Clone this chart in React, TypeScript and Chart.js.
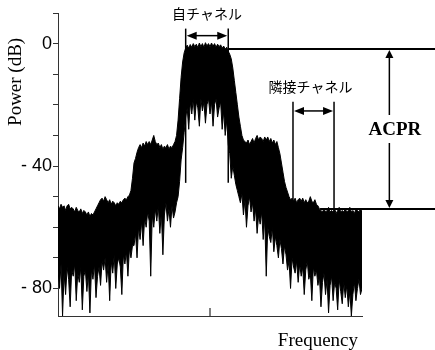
import React, { useEffect, useRef } from 'react';
import { Chart, registerables } from 'chart.js';

Chart.register(...registerables);

// Frequency grid: index step (arbitrary units, 0..100 across the plot)
const FREQ_STEP = 0.5;

// Upper envelope of the measured spectrum (dB), one value per FREQ_STEP
const UPPER_DB = [
  -53, -54, -52.5, -53.5, -53, -54.5, -53, -52.5, -54, -53.5,
  -54, -55, -53.5, -54.5, -55, -54, -55.5, -54.5, -55, -56,
  -55, -56.5, -55.5, -56, -55, -54, -53, -52, -51, -50.5,
  -51.5, -50, -51, -52, -51, -52.5, -51.5, -52, -53, -52,
  -52.5, -51.5, -52, -51, -50.5, -51, -50, -49.5, -48, -44,
  -39, -37.5, -35.5, -34, -33, -34, -32.5, -33.5, -32, -33,
  -32, -33, -31.5, -30, -32, -33, -32.5, -34, -33, -34.5,
  -33.5, -34, -33, -34.5, -33.5, -34, -33, -32, -30, -25,
  -18, -11, -6, -3, -1.5, -0.5, -1.5, -0.3, -1.2, 0,
  -1, -0.2, -1.3, 0.2, -1, 0, -1.2, 0.3, -0.8, 0,
  -1, 0.2, -0.9, 0, -1.2, -0.2, -1, -0.4, -1.5, -0.8,
  -1.8, -1.2, -2.5, -3.5, -5, -8, -12, -16, -20, -24,
  -27, -30, -31.5, -32, -32.5, -31.5, -33, -32, -31, -32.5,
  -31, -30, -31.5, -30.5, -31, -32, -30.5, -31.5, -30.5, -32,
  -31, -32.5, -31.5, -33, -32, -34, -36, -39, -42, -45,
  -47, -48.5, -50, -51, -50.5, -51.5, -50.5, -52, -51, -50.5,
  -51.5, -50.5, -52, -51, -52, -51.5, -50, -51.5, -52, -51,
  -52.5, -53, -54, -54.5, -55, -54, -55, -54.5, -53.5, -55,
  -54.5, -55, -54, -55.5, -54.5, -53.5, -55, -54.5, -55, -54,
  -55, -54.5, -53.5, -55, -54.5, -55.5, -54, -54.5, -55, -54,
  -54.5,
];

// Lower edge (troughs) of the measured spectrum (dB)
const LOWER_DB = [
  -74, -80, -72, -89, -75, -82, -73, -77, -86, -74,
  -76, -72, -84, -75, -78, -73, -87, -76, -74, -81,
  -75, -88, -74, -77, -72, -83, -76, -73, -79, -71,
  -74, -70, -78, -72, -84, -71, -75, -69, -80, -72,
  -70, -73, -82, -69, -72, -68, -76, -67, -70, -66,
  -66, -62, -70, -60, -64, -58, -66, -57, -60, -55,
  -58, -76, -56, -60, -54, -58, -53, -62, -55, -69,
  -56, -52, -58, -54, -60, -53, -57, -55, -52, -50,
  -45, -38, -34, -29, -24, -21, -28, -19, -23, -18,
  -25, -19, -21, -27, -18, -22, -19, -26, -20, -18,
  -23, -19, -27, -20, -18, -24, -21, -19, -28, -22,
  -30, -25, -33, -36, -44, -40, -43, -46, -48, -50,
  -52, -49, -56, -51, -60, -53, -50, -55, -52, -58,
  -54, -62, -56, -59, -55, -64, -57, -76, -60, -63,
  -65, -60, -68, -63, -66, -70, -64, -67, -72, -66,
  -69, -74, -71, -80, -70, -73, -75, -71, -78, -72,
  -76, -73, -82, -74, -71, -77, -75, -84, -73, -76,
  -74, -79, -76, -86, -78, -75, -82, -77, -88, -79,
  -76, -84, -78, -80, -87, -77, -81, -85, -78, -83,
  -79, -86, -81, -89, -82, -78, -84, -80, -77, -82,
  -80,
];

// Axis ranges and tick labels
const X_MIN = 0;
const X_MAX = 100;
const X_CENTER_TICK = 50;
const Y_MIN = -89;
const Y_MAX = 10;
const Y_STEP = 10;
const Y_TICK_LABELS: Record<string, string> = { '0': '0', '-40': '- 40', '-80': '- 80' };

// Annotation values (frequency index / dB)
const SELF_CHANNEL = [42, 56];
const SELF_LINE_DB = [4.9, -45.5];
const SELF_ARROW_DB = 2.6;
const ADJ_CHANNEL = [77.3, 90.8];
const ADJ_LINE_DB = [-19, -57];
const ADJ_ARROW_DB = -22;
const MAIN_LEVEL_DB = -1.8;
const ADJ_LEVEL_DB = -54;
const ADJ_LEVEL_START = 86.2;
const ACPR_X = 109;

const TEXT_SELF = '自チャネル';
const TEXT_ADJ = '隣接チャネル';
const TEXT_ACPR = 'ACPR';
const TEXT_X = 'Frequency';
const TEXT_Y = 'Power (dB)';

const CJK = "'Noto Sans CJK JP', 'Noto Sans', sans-serif";
const SERIF = "'Liberation Serif', 'DejaVu Serif', serif";

const annotationPlugin = {
  id: 'acprAnnotations',
  afterDraw(chart: any) {
    const { ctx, chartArea } = chart;
    const xs = chart.scales.x;
    const ys = chart.scales.y;
    const px = (v: number) => xs.getPixelForValue(v);
    const py = (v: number) => ys.getPixelForValue(v);
    const W = chart.width;

    ctx.save();
    ctx.strokeStyle = '#000';
    ctx.fillStyle = '#000';
    ctx.lineCap = 'butt';

    const line = (x1: number, y1: number, x2: number, y2: number, w: number) => {
      ctx.lineWidth = w;
      ctx.beginPath();
      ctx.moveTo(x1, y1);
      ctx.lineTo(x2, y2);
      ctx.stroke();
    };
    const head = (tx: number, ty: number, dx: number, dy: number, len: number, half: number) => {
      const bx = tx - dx * len;
      const by = ty - dy * len;
      ctx.beginPath();
      ctx.moveTo(tx, ty);
      ctx.lineTo(bx - dy * half, by + dx * half);
      ctx.lineTo(bx + dy * half, by - dx * half);
      ctx.closePath();
      ctx.fill();
    };

    // x-axis center tick (inward)
    line(px(X_CENTER_TICK), chartArea.bottom, px(X_CENTER_TICK), chartArea.bottom - 8, 1);

    // own channel
    const sL = px(SELF_CHANNEL[0]);
    const sR = px(SELF_CHANNEL[1]);
    line(sL, py(SELF_LINE_DB[0]), sL, py(SELF_LINE_DB[1]), 1.5);
    line(sR, py(SELF_LINE_DB[0]), sR, py(SELF_LINE_DB[1]), 1.5);
    const sy = py(SELF_ARROW_DB);
    line(sL + 6, sy, sR - 6, sy, 1.5);
    head(sL + 1, sy, -1, 0, 10, 4);
    head(sR - 1, sy, 1, 0, 10, 4);

    // adjacent channel
    const aL = px(ADJ_CHANNEL[0]);
    const aR = px(ADJ_CHANNEL[1]);
    line(aL, py(ADJ_LINE_DB[0]), aL, py(ADJ_LINE_DB[1]), 1.5);
    line(aR, py(ADJ_LINE_DB[0]), aR, py(ADJ_LINE_DB[1]), 1.5);
    const ay = py(ADJ_ARROW_DB);
    line(aL + 6, ay, aR - 6, ay, 1.5);
    head(aL + 1, ay, -1, 0, 10, 4);
    head(aR - 1, ay, 1, 0, 10, 4);

    // level lines
    const yTop = py(MAIN_LEVEL_DB);
    const yBot = py(ADJ_LEVEL_DB);
    line(sR, yTop, W, yTop, 2);
    line(px(ADJ_LEVEL_START), yBot, W, yBot, 2);

    // ACPR arrow
    const ax = px(ACPR_X);
    const tx = ax + 5.5;
    const ty = (yTop + yBot) / 2;
    line(ax, yTop + 6, ax, ty - 14, 1.5);
    line(ax, ty + 14, ax, yBot - 6, 1.5);
    head(ax, yTop + 1, 0, -1, 8, 4);
    head(ax, yBot - 1, 0, 1, 8, 4);

    ctx.textAlign = 'center';
    ctx.textBaseline = 'middle';
    ctx.font = `bold 19px ${SERIF}`;
    ctx.fillText(TEXT_ACPR, tx, ty + 1);

    ctx.font = `14px ${CJK}`;
    ctx.fillText(TEXT_SELF, (sL + sR) / 2, chartArea.top + 0.5);
    ctx.fillText(TEXT_ADJ, (aL + aR) / 2 - 3, py(-14));

    // axis titles
    ctx.font = `19px ${SERIF}`;
    ctx.textBaseline = 'alphabetic';
    ctx.fillText(TEXT_X, px(85.5), chartArea.bottom + 30);

    ctx.save();
    ctx.translate(16, py(-12.5));
    ctx.rotate(-Math.PI / 2);
    ctx.textBaseline = 'middle';
    ctx.fillText(TEXT_Y, 0, 0);
    ctx.restore();

    ctx.restore();
  },
};

export default function App() {
  const ref = useRef<HTMLCanvasElement | null>(null);

  useEffect(() => {
    if (!ref.current) return;
    const upper = UPPER_DB.map((v, i) => ({ x: i * FREQ_STEP, y: v }));
    const lower = LOWER_DB.map((v, i) => ({ x: i * FREQ_STEP, y: v }));
    const chart = new Chart(ref.current, {
      type: 'line',
      data: {
        datasets: [
          {
            data: upper,
            borderColor: '#000',
            backgroundColor: '#000',
            borderWidth: 1,
            pointRadius: 0,
            tension: 0,
            fill: '+1',
          },
          {
            data: lower,
            borderColor: '#000',
            backgroundColor: '#000',
            borderWidth: 1,
            pointRadius: 0,
            tension: 0,
            fill: false,
          },
        ],
      },
      options: {
        animation: false,
        responsive: false,
        maintainAspectRatio: false,
        layout: { padding: { left: 0, right: 73, top: 13, bottom: 34 } },
        plugins: { legend: { display: false }, tooltip: { enabled: false } },
        scales: {
          x: {
            type: 'linear',
            min: X_MIN,
            max: X_MAX,
            ticks: { display: false },
            grid: { display: false },
            border: { display: true, color: '#333', width: 1 },
            afterFit: (s: any) => { s.height = 0; },
          },
          y: {
            type: 'linear',
            min: Y_MIN,
            max: Y_MAX,
            ticks: {
              stepSize: Y_STEP,
              includeBounds: false,
              autoSkip: false,
              padding: 1,
              color: '#000',
              font: { family: "'Liberation Sans', Arial, sans-serif", size: 18 },
              callback: (v: any) => Y_TICK_LABELS[String(v)] ?? '',
            },
            grid: { display: true, drawOnChartArea: false, drawTicks: true, tickLength: 5, color: '#333' },
            border: { display: true, color: '#333', width: 1 },
            afterFit: (s: any) => { s.width = 58; },
          },
        },
      },
      plugins: [annotationPlugin],
    });
    return () => chart.destroy();
  }, []);

  return (
    <div style={{ position: 'fixed', left: 0, top: 0, width: 435, height: 350, background: '#fff' }}>
      <canvas ref={ref} width={435} height={350} style={{ width: 435, height: 350 }} />
    </div>
  );
}
